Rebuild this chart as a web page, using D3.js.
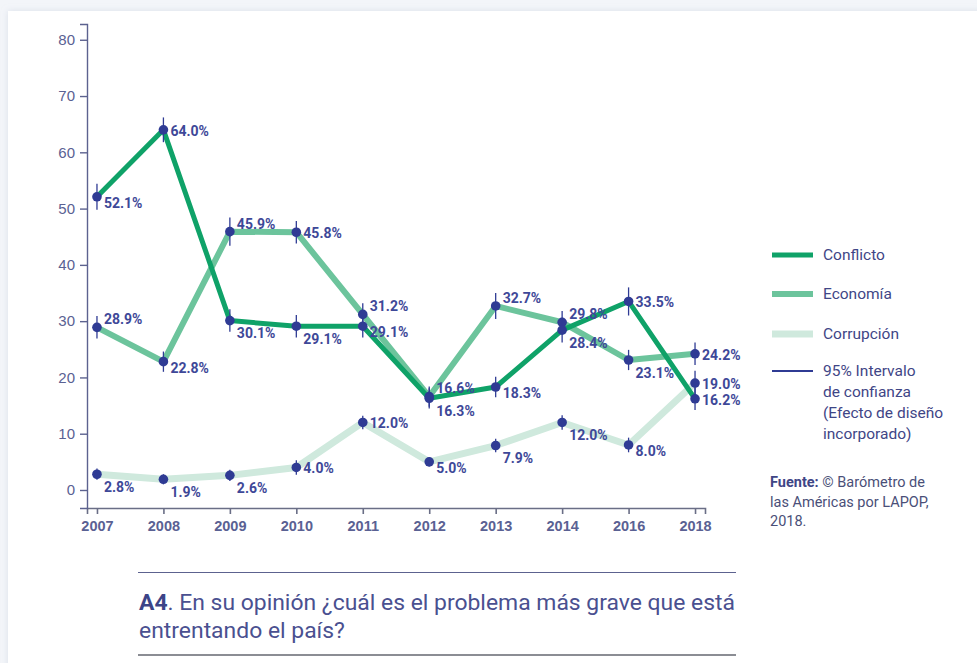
<!DOCTYPE html>
<html>
<head>
<meta charset="utf-8">
<script src="https://cdn.jsdelivr.net/npm/d3@7"></script>
<style>
  html, body { margin: 0; padding: 0; background: #f3f5f9; }
  svg { display: block; font-family: Roboto, "Noto Sans", sans-serif; }
</style>
</head>
<body>
<svg id="chart" width="977" height="663"></svg>
<script>
// --- Data ---
const years = ['2007', '2008', '2009', '2010', '2011', '2012', '2013', '2014', '2016', '2018'];
const yTicks = [0, 10, 20, 30, 40, 50, 60, 70, 80];

const conflicto = [52.1, 64.0, 30.1, 29.1, 29.1, 16.3, 18.3, 28.4, 33.5, 16.2];
const economia = [28.9, 22.8, 45.9, 45.8, 31.2, 16.6, 32.7, 29.8, 23.1, 24.2];
const corrupcion = [2.8, 1.9, 2.6, 4.0, 12.0, 5.0, 7.9, 12.0, 8.0, 19.0];

// half-width of the 95% interval
const conflictoCI = [2.3, 2.2, 2.0, 2.0, 2.0, 1.8, 1.8, 2.2, 2.5, 2.0];
const economiaCI = [2.0, 1.8, 2.5, 2.0, 2.0, 1.8, 2.3, 2.0, 1.8, 2.0];
const corrupcionCI = [1.0, 0.9, 1.0, 1.3, 1.2, 0.8, 1.2, 1.3, 1.3, 2.2];

// label placement: a = above-right, r = right, b = below-right
const conflictoPos = ['rb', 'r', 'b', 'b', 'rb', 'b', 'rb', 'b', 'r', 'r'];
const economiaPos = ['a', 'rb', 'a', 'r', 'a', 'a', 'a', 'a', 'b', 'r'];
const corrupcionPos = ['b', 'b', 'b', 'r', 'r', 'rb', 'b', 'b', 'rb', 'r'];

const series = [
  { name: 'Corrupción', values: corrupcion, ci: corrupcionCI, pos: corrupcionPos, color: '#cfe9dd', width: 7 },
  { name: 'Economía', values: economia, ci: economiaCI, pos: economiaPos, color: '#6cc49c', width: 6 },
  { name: 'Conflicto', values: conflicto, ci: conflictoCI, pos: conflictoPos, color: '#0fa268', width: 5 }
];

const navy = '#2f3b94';
const labelColor = '#3e4898';
const axisText = '#5a6193';

const svg = d3.select('#chart');

// card
svg.append('defs').append('filter').attr('id', 'shadow')
  .attr('x', '-5%').attr('y', '-5%').attr('width', '110%').attr('height', '110%')
  .append('feDropShadow').attr('dx', 0).attr('dy', 0).attr('stdDeviation', 3)
  .attr('flood-color', '#c9d0de').attr('flood-opacity', 0.6);

svg.append('rect')
  .attr('x', 8).attr('y', 11).attr('width', 990).attr('height', 680)
  .attr('fill', '#fff')
  .attr('filter', 'url(#shadow)');

// --- Scales ---
const x = d3.scalePoint().domain(years).range([87, 705]).padding(0.15);
const y = d3.scaleLinear().domain([-3.2, 82.8]).range([508, 24]);

// --- Axes ---
const xAxis = svg.append('g')
  .attr('transform', 'translate(0,508)')
  .call(d3.axisBottom(x).tickSizeOuter(0).tickSize(6).tickPadding(7));

const yAxis = svg.append('g')
  .attr('transform', 'translate(87,0)')
  .call(d3.axisLeft(y).tickValues(yTicks).tickSizeOuter(0).tickSize(7).tickPadding(5));

xAxis.selectAll('path, line').attr('stroke', '#6a6e86').attr('stroke-width', 1.6);
yAxis.selectAll('path, line').attr('stroke', '#5c628f').attr('stroke-width', 1.4);
xAxis.selectAll('text').attr('fill', axisText).style('font-size', '14.5px').style('font-weight', 600);
yAxis.selectAll('text').attr('fill', axisText).style('font-size', '15px').style('font-weight', 500);

// --- Lines ---
const line = d3.line()
  .x((d, i) => x(years[i]))
  .y(d => y(d));

series.forEach(s => {
  svg.append('path')
    .datum(s.values)
    .attr('fill', 'none')
    .attr('stroke', s.color)
    .attr('stroke-width', s.width)
    .attr('stroke-linejoin', 'round')
    .attr('d', line);
});

// --- Error bars, points, labels ---
const offsets = { a: -8, r: 1, rb: 6, b: 13 };

series.forEach(s => {
  const g = svg.append('g');
  s.values.forEach((v, i) => {
    const cx = x(years[i]);
    g.append('line')
      .attr('x1', cx).attr('x2', cx)
      .attr('y1', y(v - s.ci[i])).attr('y2', y(v + s.ci[i]))
      .attr('stroke', navy).attr('stroke-width', 1.3);
    g.append('circle')
      .attr('cx', cx).attr('cy', y(v))
      .attr('r', 4.8)
      .attr('fill', navy);
    g.append('text')
      .attr('x', cx + 7)
      .attr('y', y(v) + offsets[s.pos[i]])
      .attr('dy', '0.35em')
      .attr('fill', labelColor)
      .style('font-size', '14px')
      .style('font-weight', 700)
      .text(d3.format('.1f')(v) + '%');
  });
});

// --- Legend ---
const legendItems = [
  { label: ['Conflicto'], color: '#0fa268', width: 5 },
  { label: ['Economía'], color: '#6cc49c', width: 6 },
  { label: ['Corrupción'], color: '#cfe9dd', width: 7 },
  { label: ['95% Intervalo', 'de confianza', '(Efecto de diseño', 'incorporado)'], color: navy, width: 1.8 }
];
const legendY = [255, 294, 334, 371];

legendItems.forEach((item, i) => {
  const g = svg.append('g').attr('transform', `translate(772,${legendY[i]})`);
  g.append('line')
    .attr('x1', 0).attr('x2', 41)
    .attr('stroke', item.color).attr('stroke-width', item.width);
  const t = g.append('text')
    .attr('x', 51).attr('y', 0)
    .attr('fill', '#3f4686')
    .style('font-size', '15.5px');
  item.label.forEach((l, j) => {
    t.append('tspan').attr('x', 51).attr('dy', j === 0 ? '0.35em' : '1.35em').text(l);
  });
});

// source
const src = svg.append('text')
  .attr('x', 770).attr('y', 487)
  .attr('fill', '#4a4f78')
  .style('font-size', '14.5px');
src.append('tspan').style('font-weight', 700).attr('fill', '#3f4686').text('Fuente:');
src.append('tspan').text(' © Barómetro de');
src.append('tspan').attr('x', 770).attr('dy', '1.35em').text('las Américas por LAPOP,');
src.append('tspan').attr('x', 770).attr('dy', '1.35em').text('2018.');

// --- Question ---
svg.append('line')
  .attr('x1', 138).attr('x2', 736).attr('y1', 572.5).attr('y2', 572.5)
  .attr('stroke', '#5c628f').attr('stroke-width', 1.2);
svg.append('line')
  .attr('x1', 138).attr('x2', 736).attr('y1', 655).attr('y2', 655)
  .attr('stroke', '#8b8d94').attr('stroke-width', 2.2);

const q = svg.append('text')
  .attr('x', 139).attr('y', 610)
  .attr('fill', '#4a5090')
  .style('font-size', '21.5px');
q.append('tspan').style('font-weight', 700).attr('fill', '#3c4488').text('A4');
q.append('tspan').text('. En su opinión ¿cuál es el problema más grave que está');
const q2 = svg.append('text')
  .attr('x', 139).attr('y', 638)
  .attr('fill', '#4a5090')
  .style('font-size', '21.5px')
  .text('entrentando el país?');

// the original face is narrower and wider-set; stretch to the same line width
const k = 596 / q.node().getComputedTextLength();
q.attr('textLength', 596).attr('lengthAdjust', 'spacingAndGlyphs');
q2.attr('textLength', q2.node().getComputedTextLength() * k).attr('lengthAdjust', 'spacingAndGlyphs');
</script>
</body>
</html>
